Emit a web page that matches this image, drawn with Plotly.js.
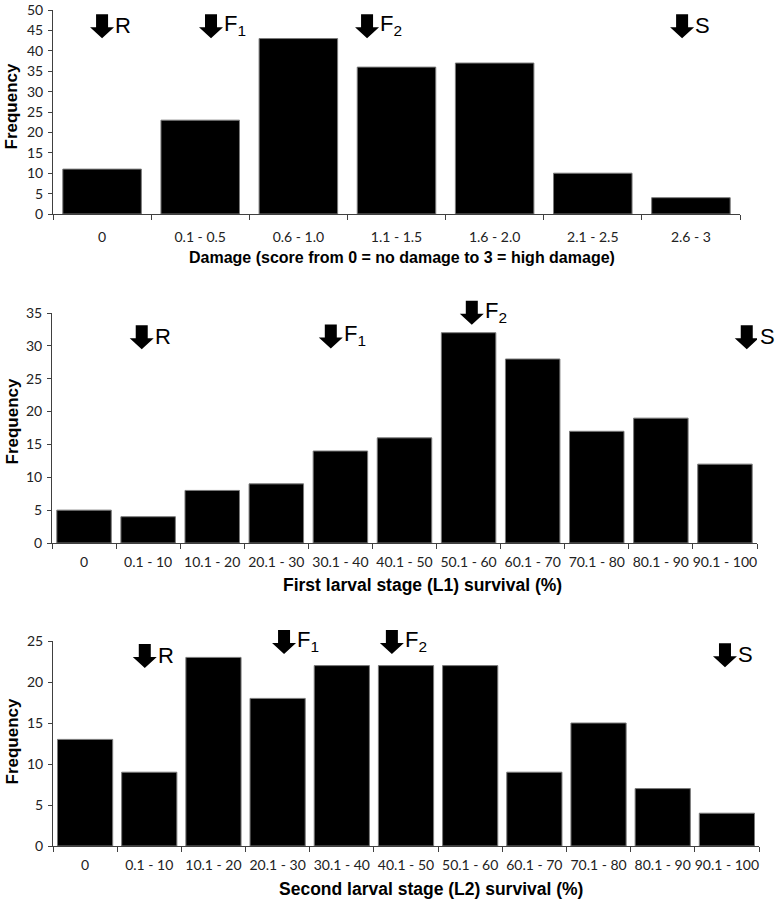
<!DOCTYPE html>
<html>
<head>
<meta charset="utf-8">
<script src="https://cdn.plot.ly/plotly-3.0.1.min.js"></script>
<style>html,body{margin:0;padding:0;background:#fff;}#chart{width:777px;height:900px;}</style>
</head>
<body>
<div id="chart"></div>
<script>
// ---- data ----
const damageCats = ["0", "0.1 - 0.5", "0.6 - 1.0", "1.1 - 1.5", "1.6 - 2.0", "2.1 - 2.5", "2.6 - 3"];
const damageFreq = [11, 23, 43, 36, 37, 10, 4];

const survCats = ["0", "0.1 - 10", "10.1 - 20", "20.1 - 30", "30.1 - 40", "40.1 - 50",
                  "50.1 - 60", "60.1 - 70", "70.1 - 80", "80.1 - 90", "90.1 - 100"];
const l1Freq = [5, 4, 8, 9, 14, 16, 32, 28, 17, 19, 12];
const l2Freq = [13, 9, 23, 18, 22, 22, 22, 9, 15, 7, 4];

const xTitles = ["Damage (score from 0 = no damage to 3 = high damage)",
                 "First larval stage (L1) survival (%)",
                 "Second larval stage (L2) survival (%)"];
const yTitle = "Frequency";

// parent / reference markers (category position, frequency level of arrow tip)
const markerLabels = ["R", "F<sub>1</sub>", "F<sub>2</sub>", "S"];
const damageMarkX = [0.0, 1.11, 2.70, 5.91];
const damageMarkY = [43.1, 43.1, 43.1, 43.1];
const l1MarkX = [0.90, 3.85, 6.05, 10.34];
const l1MarkY = [29.5, 29.6, 33.2, 29.5];
const l2MarkX = [0.93, 3.10, 4.78, 9.97];
const l2MarkY = [21.7, 23.4, 23.4, 21.8];

// ---- styling ----
const tickFont = {family: "Lato, 'Open Sans', sans-serif", size: 14, color: "#222"};
const boldFam = "'Liberation Sans', Arial, sans-serif";
const axisCol = "#404040";

function barTrace(cats, vals, xa, ya, w) {
  return {
    type: "bar", x: cats, y: vals, xaxis: xa, yaxis: ya, width: w,
    marker: {color: "#000", line: {color: "#7a7a7a", width: 1}},
    hoverinfo: "x+y", showlegend: false
  };
}

const data = [
  barTrace(damageCats, damageFreq, "x", "y", 0.8),
  barTrace(survCats, l1Freq, "x2", "y2", 0.85),
  barTrace(survCats, l2Freq, "x3", "y3", 0.86)
];

function xAxis(dom, anchor, cats, standoff) {
  return {
    domain: dom, anchor: anchor, type: "category",
    categoryorder: "array", categoryarray: cats,
    range: [-0.5, cats.length - 0.5],
    showline: true, linecolor: axisCol, linewidth: 1,
    ticks: "outside", tickson: "boundaries", ticklen: 5, tickcolor: axisCol, tickwidth: 1,
    tickfont: tickFont, ticklabelstandoff: standoff, tickangle: 0,
    showgrid: false, zeroline: false, automargin: false, fixedrange: true
  };
}
function yAxis(dom, anchor, max) {
  return {
    domain: dom, anchor: anchor, range: [0, max], dtick: 5, tick0: 0,
    showline: true, linecolor: axisCol, linewidth: 1,
    ticks: "outside", ticklen: 4, tickcolor: axisCol, tickwidth: 1,
    tickfont: tickFont, ticklabelstandoff: 2,
    showgrid: false, zeroline: false, automargin: false, fixedrange: true
  };
}

const shapes = [];
const annotations = [];
function addMarks(xs, ys, ymax, xa, ya) {
  xs.forEach((xv, i) => {
    shapes.push({
      type: "path", xref: xa, yref: ya + " domain",
      xsizemode: "pixel", ysizemode: "pixel",
      xanchor: xv, yanchor: ys[i] / ymax,
      path: "M0,0 L-12,11 L-6,11 L-6,24 L6,24 L6,11 L12,11 Z",
      fillcolor: "#000", line: {width: 0}
    });
    annotations.push({
      xref: xa, yref: ya, x: xv, y: ys[i],
      text: markerLabels[i], showarrow: false,
      xanchor: "left", yanchor: "middle", xshift: 11, yshift: 13,
      font: {family: boldFam, size: 22, color: "#000"}
    });
  });
}
addMarks(damageMarkX, damageMarkY, 50, "x", "y");
addMarks(l1MarkX, l1MarkY, 35, "x2", "y2");
addMarks(l2MarkX, l2MarkY, 25, "x3", "y3");

// axis titles (placed as in the reference)
const xTitlePos = [[402, 257, 16], [422, 585, 17.5], [431, 889, 17.5]];
const yTitlePos = [106, 421, 741];
xTitles.forEach((t, i) => {
  const p = xTitlePos[i];
  annotations.push({
    xref: "paper", yref: "paper", x: p[0] / 777, y: 1 - p[1] / 900,
    xanchor: "center", yanchor: "middle", showarrow: false, text: t,
    font: {family: boldFam, size: p[2], color: "#000", weight: "bold"}
  });
  annotations.push({
    xref: "paper", yref: "paper", x: 11.5 / 777, y: 1 - yTitlePos[i] / 900,
    xanchor: "center", yanchor: "middle", showarrow: false, text: yTitle, textangle: -90,
    font: {family: boldFam, size: 17, color: "#000", weight: "bold"}
  });
});

const layout = {
  width: 777, height: 900,
  margin: {l: 0, r: 0, t: 0, b: 0},
  paper_bgcolor: "#fff", plot_bgcolor: "#fff",
  showlegend: false,
  xaxis: xAxis([53/777, 740/777], "y", damageCats, 10),
  yaxis: yAxis([1 - 214/900, 1 - 10/900], "x", 50),
  xaxis2: xAxis([52/777, 757/777], "y2", survCats, 6),
  yaxis2: yAxis([1 - 543/900, 1 - 313/900], "x2", 35),
  xaxis3: xAxis([53/777, 759/777], "y3", survCats, 6),
  yaxis3: yAxis([1 - 846/900, 1 - 641/900], "x3", 25),
  shapes: shapes,
  annotations: annotations
};

Plotly.newPlot("chart", data, layout, {displayModeBar: false, staticPlot: true});
</script>
</body>
</html>
